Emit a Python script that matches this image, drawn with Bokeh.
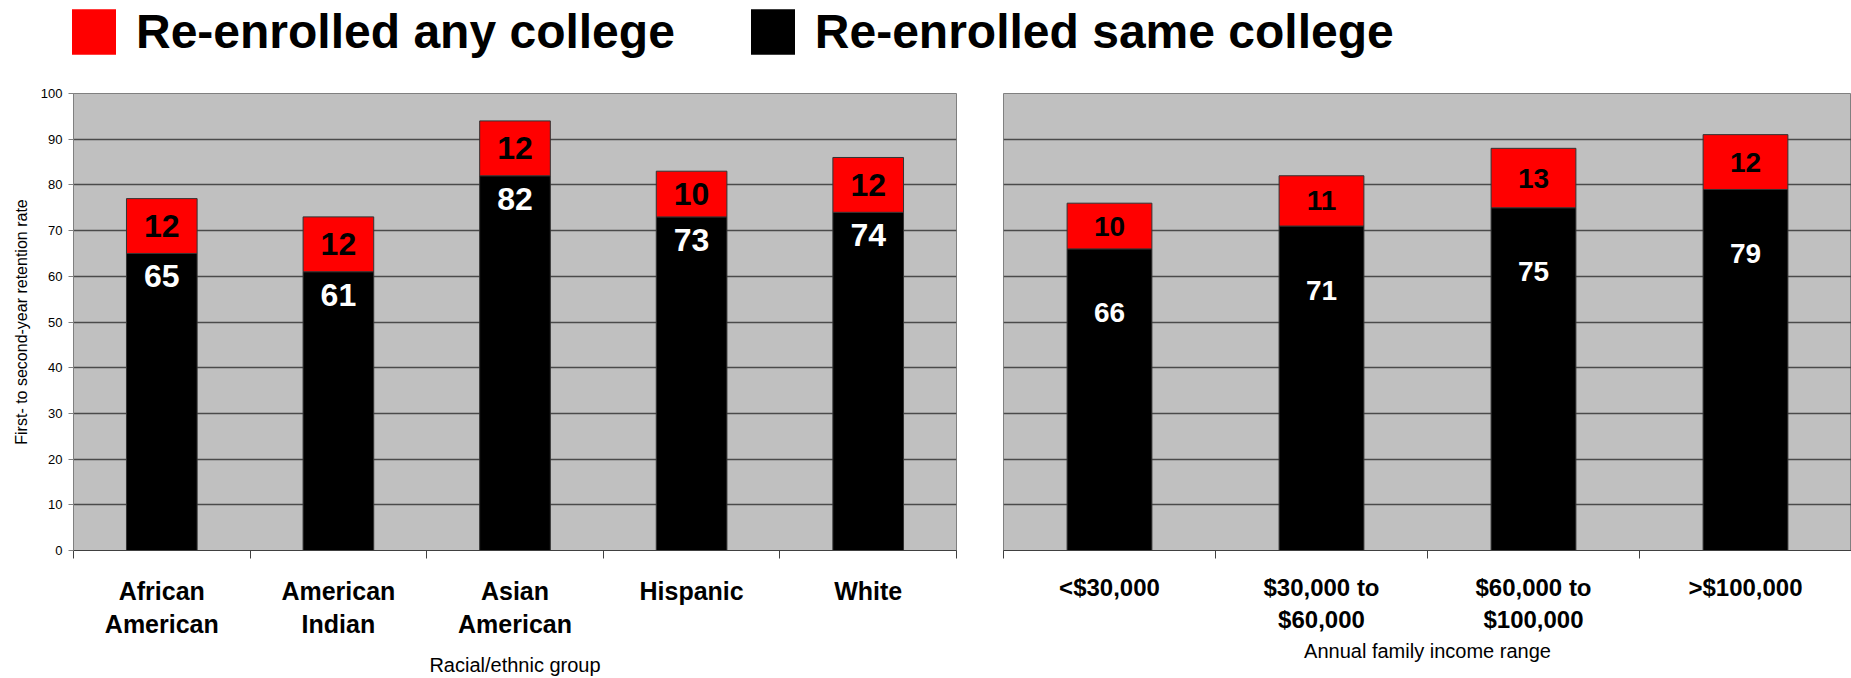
import numpy as np
from bokeh.plotting import figure
from bokeh.models import (Range1d, FixedTicker, Legend, LegendItem, ColumnDataSource)
from bokeh.layouts import column, row
from bokeh.embed import file_html
from bokeh.resources import INLINE
from bokeh.core.properties import value

# ---------------- data ----------------
race_categories = ["African American", "American Indian", "Asian American", "Hispanic", "White"]
race_tick_labels = ["African\nAmerican", "American\nIndian", "Asian\nAmerican", "Hispanic", "White"]
race_same = [65, 61, 82, 73, 74]
race_any_extra = [12, 12, 12, 10, 12]

income_categories = ["<$30,000", "$30,000 to $60,000", "$60,000 to $100,000", ">$100,000"]
income_tick_labels = ["<$30,000", "$30,000 to\n$60,000", "$60,000 to\n$100,000", ">$100,000"]
income_same = [66, 71, 75, 79]
income_any_extra = [10, 11, 13, 12]

y_ticks = list(range(0, 101, 10))

series_names = ["Re-enrolled any college", "Re-enrolled same college"]

# ---------------- style ----------------
FONT = "Liberation Sans"
RED = "#FF0000"
BLACK = "#000000"
BG = "#C0C0C0"
GRID = "#4a4a4a"
AXIS = "#404040"

FRAME_H = 457
TOP_B = 13
BOT_B = 128


def make_panel(cats, tick_labels, same, extra, xlabel, frame_w, left_b, right_b,
               show_y, lab_size, lab_style, same_offset, cat_size, cat_standoff, title_standoff):
    n = len(cats)
    xs = np.arange(n) + 0.5
    same_a = np.array(same, dtype=float)
    extra_a = np.array(extra, dtype=float)
    src = ColumnDataSource(dict(
        x=xs, cat=cats, same=same_a, total=same_a + extra_a,
        mid=same_a + extra_a / 2.0, same_y=same_a - same_offset,
        same_lab=[str(v) for v in same], extra_lab=[str(v) for v in extra],
    ))
    p = figure(frame_width=frame_w, frame_height=FRAME_H,
               min_border_left=left_b, min_border_right=right_b,
               min_border_top=TOP_B, min_border_bottom=BOT_B,
               x_range=Range1d(0, n), y_range=Range1d(0, 100),
               y_axis_location="left" if show_y else None,
               output_backend="svg", toolbar_location=None)
    p.background_fill_color = BG
    p.border_fill_color = "white"
    p.outline_line_color = "#808080"
    p.outline_line_width = 1

    p.vbar(x="x", bottom=0, top="same", width=0.4, source=src,
           fill_color=BLACK, line_color="#333333", line_width=1)
    p.vbar(x="x", bottom="same", top="total", width=0.4, source=src,
           fill_color=RED, line_color="#333333", line_width=1)

    p.text(x="x", y="mid", text="extra_lab", source=src, text_align="center",
           text_baseline="middle", text_font=value(FONT), text_font_style=lab_style,
           text_font_size=lab_size, text_color="black")
    p.text(x="x", y="same_y", text="same_lab", source=src, text_align="center",
           text_baseline="middle", text_font=value(FONT), text_font_style=lab_style,
           text_font_size=lab_size, text_color="white")

    # grid
    p.xgrid.visible = False
    p.ygrid.ticker = FixedTicker(ticks=y_ticks)
    p.ygrid.grid_line_color = GRID
    p.ygrid.grid_line_width = 1.4

    # x axis
    ax = p.xaxis[0]
    ax.ticker = FixedTicker(ticks=[float(v) for v in xs], minor_ticks=list(range(n + 1)))
    ax.major_tick_out = 0
    ax.major_tick_in = 0
    ax.minor_tick_out = 8
    ax.minor_tick_in = 0
    ax.minor_tick_line_color = AXIS
    ax.axis_line_color = AXIS
    ax.major_label_overrides = {float(v): lab for v, lab in zip(xs, tick_labels)}
    ax.major_label_text_font = FONT
    ax.major_label_text_font_style = "bold"
    ax.major_label_text_font_size = cat_size
    ax.major_label_text_color = "black"
    ax.major_label_standoff = cat_standoff
    ax.axis_label = xlabel
    ax.axis_label_text_font = FONT
    ax.axis_label_text_font_style = "normal"
    ax.axis_label_text_font_size = "20px"
    ax.axis_label_text_color = "black"
    ax.axis_label_standoff = title_standoff

    if show_y:
        ay = p.yaxis[0]
        ay.ticker = FixedTicker(ticks=y_ticks)
        ay.major_tick_out = 5
        ay.major_tick_in = 0
        ay.minor_tick_out = 0
        ay.minor_tick_in = 0
        ay.major_tick_line_color = "#808080"
        ay.axis_line_color = "#808080"
        ay.major_label_text_font = FONT
        ay.major_label_text_font_size = "13px"
        ay.major_label_text_color = "black"
        ay.major_label_standoff = 6
        ay.axis_label = "First- to second-year retention rate"
        ay.axis_label_text_font = FONT
        ay.axis_label_text_font_style = "normal"
        ay.axis_label_text_font_size = "16px"
        ay.axis_label_text_color = "black"
        ay.axis_label_standoff = 8
    return p


left = make_panel(race_categories, race_tick_labels, race_same, race_any_extra,
                  "Racial/ethnic group", 883, 73, 24, True, "32px", "bold", 5.0,
                  "25px", 18, 13)
right = make_panel(income_categories, income_tick_labels, income_same, income_any_extra,
                   "Annual family income range", 848, 23, 0, False, "28px", "bold", 14.0,
                   "24px", 15, 4)

# ---------------- legend strip ----------------
top = figure(width=1851, height=80, x_range=Range1d(0, 1), y_range=Range1d(0, 1),
             x_axis_location=None, y_axis_location=None, min_border=0,
             outline_line_color=None, output_backend="svg", toolbar_location=None)
top.grid.visible = False
nan = float("nan")
r_any = top.vbar(x=[nan], top=[nan], width=0.4, fill_color=RED, line_color=None)
r_same = top.vbar(x=[nan], top=[nan], width=0.4, fill_color=BLACK, line_color=None)
legend = Legend(items=[LegendItem(label=series_names[0], renderers=[r_any]),
                       LegendItem(label=series_names[1], renderers=[r_same])],
                location=(66, 20), orientation="horizontal",
                glyph_width=55, glyph_height=57, label_standoff=15, spacing=70,
                padding=0, margin=0, border_line_color=None, background_fill_alpha=0,
                label_text_font=FONT, label_text_font_size="48px",
                label_text_font_style="bold", label_text_color="black")
top.add_layout(legend)

layout = column(top, row(left, right))

with open("out.html", "w") as f:
    f.write(file_html(layout, INLINE))
